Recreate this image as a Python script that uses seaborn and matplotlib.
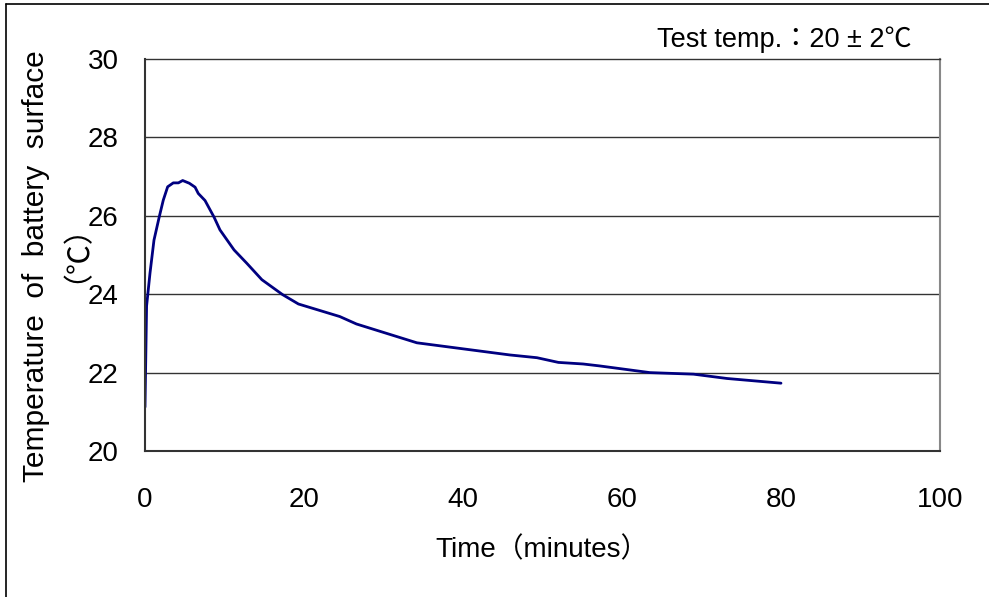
import matplotlib
matplotlib.use("Agg")
import matplotlib.pyplot as plt
import seaborn as sns
import pandas as pd
from matplotlib.lines import Line2D

time_min = [0.0, 0.2, 0.63, 1.13, 1.8, 2.3, 2.85, 3.56, 4.2, 4.74, 5.58, 6.3, 6.7, 7.55,
            8.7, 9.43, 11.2, 12.8, 14.7, 17.3, 19.3, 24.5, 26.6, 34.2, 45.9, 49.3,
            52.0, 55.1, 57.2, 63.5, 69.0, 73.2, 80.0]
temp_c = [21.12, 23.7, 24.54, 25.38, 25.98, 26.4, 26.74, 26.84, 26.84, 26.9, 26.83, 26.73,
          26.57, 26.39, 25.96, 25.64, 25.13, 24.79, 24.37, 23.99, 23.75, 23.43, 23.24,
          22.76, 22.45, 22.38, 22.26, 22.22, 22.17, 22.0, 21.96, 21.85, 21.73]

x_ticks = [0, 20, 40, 60, 80, 100]
y_ticks = [20, 22, 24, 26, 28, 30]

sns.set_theme(style="white")
fam = ['Liberation Sans', 'Noto Sans CJK JP', 'DejaVu Sans']
plt.rcParams['font.family'] = fam
plt.rcParams['text.color'] = 'black'
plt.rcParams['axes.labelcolor'] = 'black'

df = pd.DataFrame({"time": time_min, "temp": temp_c})

fig = plt.figure(figsize=(9.89, 5.97), dpi=100)
ax = fig.add_axes([145/989, 1-451/597, (940-145)/989, (451-59)/597])

sns.lineplot(data=df, x="time", y="temp", ax=ax, color="#000080", linewidth=2.0,
             sort=False, estimator=None)

ax.set_xlim(0, 100)
ax.set_ylim(20, 30)
ax.set_xticks(x_ticks)
ax.set_yticks(y_ticks)
ax.set_xticklabels([str(t) for t in x_ticks], fontsize=20)
ax.set_yticklabels([str(t) for t in y_ticks], fontsize=20)
ax.tick_params(axis='x', length=0, pad=26, colors='black')
ax.tick_params(axis='y', length=0, pad=19, colors='black')

for yv in y_ticks[1:-1]:
    ax.axhline(yv, color="#333333", linewidth=1.0, zorder=0)

for side, s in ax.spines.items():
    s.set_visible(True)
    if side == 'right':
        s.set_color("#888888")
        s.set_linewidth(1.5)
    else:
        s.set_color("#333333")
        s.set_linewidth(1.5 if side in ('left', 'bottom') else 1.0)

ax.set_xlabel("Time（minutes）", fontsize=20, family=fam, labelpad=17, color='black')
ax.set_ylabel("Temperature  of  battery  surface", fontsize=21.5,
              family=fam, color='black')
ax.yaxis.set_label_coords((50 - 145) / 795, (451 - 266) / 392)
fig.text(61/989, 1-238/597, "（℃）", fontsize=21.5, rotation=90, ha='center', va='center',
         family=fam, color='black')

fig.text(912/989, 1-40/597, "Test temp.：20 ± 2℃", fontsize=19.5, ha='right', va='center',
         family=fam, color='black')

fig.add_artist(Line2D([5.5/989, 5.5/989], [0, 1-4/597], transform=fig.transFigure,
                      color='black', linewidth=1.2))
fig.add_artist(Line2D([5.5/989, 1], [1-4/597, 1-4/597], transform=fig.transFigure,
                      color='black', linewidth=1.2))

fig.savefig("out.png", dpi=100)
